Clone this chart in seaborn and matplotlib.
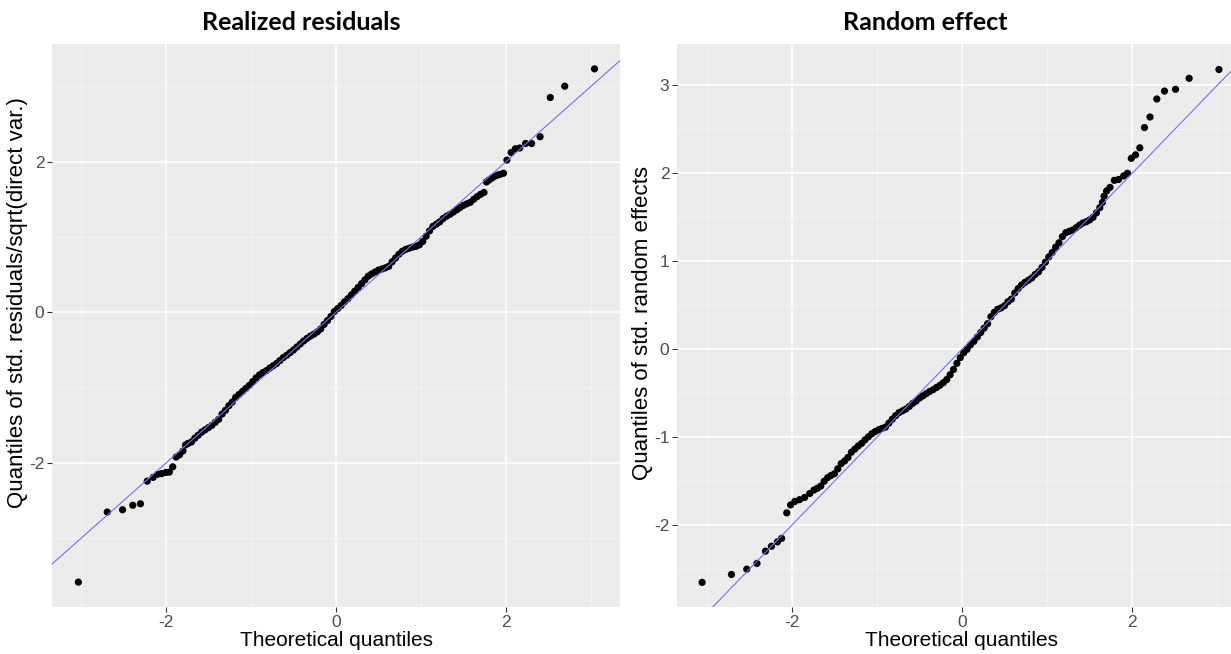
import matplotlib
matplotlib.use("Agg")
import matplotlib.pyplot as plt
import seaborn as sns
import pandas as pd
from matplotlib.ticker import FixedLocator

# ---------------- data ----------------
# Left panel: realized residuals  (theoretical quantile, sample quantile)
res_x = [-3.03, -2.69, -2.51, -2.39, -2.30, -2.22, -2.15, -2.10, -2.05, -2.00, -1.96, -1.92,
         -1.88, -1.84, -1.80, -1.77,
         -1.74, -1.70, -1.66, -1.62, -1.58, -1.54, -1.50, -1.46, -1.42, -1.38, -1.34, -1.30,
         -1.26, -1.22, -1.18, -1.14, -1.10, -1.06, -1.02, -0.98, -0.94, -0.90, -0.86, -0.82,
         -0.78, -0.74, -0.70, -0.66, -0.62, -0.58, -0.54, -0.50, -0.46, -0.42, -0.38, -0.34,
         -0.30, -0.26, -0.22, -0.18, -0.14, -0.10, -0.06, -0.02, 0.02, 0.06, 0.10, 0.14,
         0.18, 0.22, 0.26, 0.30, 0.34, 0.38, 0.42, 0.46, 0.50, 0.54, 0.58, 0.62,
         0.66, 0.70, 0.74, 0.78, 0.82, 0.86, 0.90, 0.94, 0.98, 1.02, 1.06, 1.10,
         1.14, 1.18, 1.22, 1.26, 1.30, 1.34, 1.38, 1.42, 1.46, 1.50, 1.54, 1.58,
         1.62, 1.66, 1.70, 1.74,
         1.77, 1.80, 1.83, 1.86, 1.90, 1.93, 1.97, 2.01, 2.06, 2.11, 2.16, 2.23,
         2.30, 2.40, 2.52, 2.69, 3.04]
res_y = [-3.58, -2.65, -2.62, -2.56, -2.54, -2.24, -2.19, -2.15, -2.14, -2.125, -2.12, -2.05,
         -1.92, -1.89, -1.84, -1.76,
         -1.74, -1.72, -1.67, -1.63, -1.59, -1.56, -1.53, -1.50, -1.46, -1.42, -1.35, -1.30,
         -1.24, -1.19, -1.13, -1.09, -1.05, -1.01, -0.97, -0.92, -0.87, -0.83, -0.80, -0.775,
         -0.74, -0.71, -0.68, -0.64, -0.60, -0.57, -0.535, -0.50, -0.46, -0.42, -0.38, -0.345,
         -0.315, -0.29, -0.26, -0.22, -0.16, -0.11, -0.055, 0.01, 0.05, 0.09, 0.14, 0.18,
         0.23, 0.28, 0.33, 0.38, 0.43, 0.48, 0.51, 0.535, 0.56, 0.575, 0.59, 0.61,
         0.67, 0.72, 0.77, 0.81, 0.835, 0.85, 0.865, 0.875, 0.895, 0.94, 1.01, 1.08,
         1.14, 1.17, 1.20, 1.245, 1.275, 1.30, 1.33, 1.36, 1.39, 1.42, 1.44, 1.46,
         1.50, 1.535, 1.565, 1.59,
         1.73, 1.755, 1.78, 1.80, 1.82, 1.83, 1.845, 2.02, 2.12, 2.17, 2.18, 2.24,
         2.24, 2.33, 2.85, 3.00, 3.23]

# Right panel: random effects
re_x = [-3.055, -2.71, -2.53, -2.41, -2.31, -2.24, -2.17, -2.12, -2.06, -2.015, -1.965, -1.91,
        -1.85, -1.79,
        -1.74, -1.70, -1.66, -1.62, -1.58, -1.54, -1.50, -1.46, -1.42, -1.38, -1.34, -1.30,
        -1.26, -1.22, -1.18, -1.14, -1.10, -1.06, -1.02, -0.98, -0.94, -0.90, -0.86, -0.82,
        -0.78, -0.74, -0.70, -0.66, -0.62, -0.58, -0.54, -0.50, -0.46, -0.42, -0.38, -0.34,
        -0.30, -0.26, -0.22, -0.18, -0.14, -0.10, -0.06, -0.02, 0.02, 0.06, 0.10, 0.14,
        0.18, 0.22, 0.26, 0.30, 0.34, 0.38, 0.42, 0.46, 0.50, 0.54, 0.58, 0.62,
        0.66, 0.70, 0.74, 0.78, 0.82, 0.86, 0.90, 0.94, 0.98, 1.02, 1.06, 1.10,
        1.14, 1.18, 1.22, 1.26, 1.30, 1.34, 1.38, 1.42, 1.46, 1.50, 1.54, 1.58,
        1.62, 1.65, 1.67, 1.70, 1.74, 1.79, 1.84, 1.90, 1.945, 1.99, 2.04, 2.09,
        2.145, 2.21, 2.29, 2.38, 2.51, 2.67, 3.02]
re_y = [-2.65, -2.56, -2.50, -2.435, -2.295, -2.24, -2.19, -2.15, -1.86, -1.77, -1.73, -1.71,
        -1.685, -1.64,
        -1.60, -1.58, -1.555, -1.50, -1.46, -1.435, -1.415, -1.36, -1.30, -1.27, -1.23, -1.17,
        -1.135, -1.10, -1.07, -1.03, -0.995, -0.96, -0.935, -0.915, -0.90, -0.885, -0.84, -0.795,
        -0.755, -0.72, -0.70, -0.68, -0.65, -0.615, -0.59, -0.555, -0.53, -0.505, -0.48, -0.46,
        -0.435, -0.41, -0.38, -0.345, -0.29, -0.23, -0.16, -0.095, -0.04, 0.00, 0.05, 0.09,
        0.14, 0.19, 0.24, 0.29, 0.37, 0.42, 0.455, 0.47, 0.495, 0.54, 0.57, 0.64,
        0.69, 0.73, 0.76, 0.785, 0.81, 0.85, 0.88, 0.93, 0.99, 1.05, 1.10, 1.16,
        1.21, 1.28, 1.325, 1.34, 1.355, 1.38, 1.41, 1.435, 1.45, 1.47, 1.50, 1.55,
        1.61, 1.67, 1.74, 1.80, 1.84, 1.92, 1.93, 1.97, 2.00, 2.17, 2.21, 2.29,
        2.52, 2.64, 2.845, 2.935, 2.955, 3.08, 3.18]

titles = ["Realized residuals", "Random effect"]
xlabels = ["Theoretical quantiles", "Theoretical quantiles"]
ylabels = ["Quantiles of std. residuals/sqrt(direct var.)", "Quantiles of std. random effects"]

# ---------------- styling ----------------
sns.set_theme(style="darkgrid", rc={
    "axes.facecolor": "#EBEBEB",
    "grid.color": "white",
    "axes.edgecolor": "#EBEBEB",
})
plt.rcParams["font.family"] = ["Liberation Sans", "DejaVu Sans"]
plt.rcParams["axes.unicode_minus"] = False

W, H = 1231, 654
fig = plt.figure(figsize=(W / 100, H / 100), dpi=100)
fig.patch.set_facecolor("white")

def px_axes(l, r, t, b):
    return fig.add_axes([l / W, 1 - b / H, (r - l) / W, (b - t) / H])

ax1 = px_axes(52, 620, 44, 607)
ax2 = px_axes(677, 1247, 44, 607)

panels = [
    (ax1, res_x, res_y, (-3.34, 3.34), (-3.91, 3.56), [-2, 0, 2], [-3, -1, 1, 3], (-0.06, 0.54)),
    (ax2, re_x, re_y, (-3.35, 3.35), (-2.93, 3.47), [-2, -1, 0, 1, 2, 3],
     [-2.5, -1.5, -0.5, 0.5, 1.5, 2.5], (-0.06, 0.504)),
]

for i, (ax, xs, ys, xl, yl, yt, yminor, lab_xy) in enumerate(panels):
    df = pd.DataFrame({"theo": xs, "sample": ys})
    sns.scatterplot(data=df, x="theo", y="sample", ax=ax, color="black",
                    s=27, edgecolor="none", linewidth=0, zorder=3)
    ax.axline((0, 0), slope=1, color="#7070ff", lw=0.8, zorder=4)
    ax.set_xlim(*xl)
    ax.set_ylim(*yl)
    ax.xaxis.set_major_locator(FixedLocator([-2, 0, 2]))
    ax.xaxis.set_minor_locator(FixedLocator([-3, -1, 1, 3]))
    ax.yaxis.set_major_locator(FixedLocator(yt))
    ax.yaxis.set_minor_locator(FixedLocator(yminor))
    ax.grid(which="major", color="white", lw=1.1)
    ax.grid(which="minor", color="#F5F5F5", lw=0.6)
    ax.tick_params(axis="both", which="major", length=3.5, width=0.8, color="#333333",
                   labelsize=12.5, labelcolor="#4D4D4D", pad=2, bottom=True, left=True)
    ax.tick_params(axis="both", which="minor", length=0)
    for sp in ax.spines.values():
        sp.set_visible(False)
    ax.set_xlabel(xlabels[i], fontsize=15, color="black", labelpad=1)
    ax.set_ylabel(ylabels[i], fontsize=16, color="black")
    ax.yaxis.label.set_verticalalignment("center")
    ax.yaxis.set_label_coords(*lab_xy)

fig.text(301 / W, 1 - 22 / H, titles[0], ha="center", va="center", color="black",
         fontsize=18, fontweight="bold", family=["Lato", "DejaVu Sans"])
fig.text(925 / W, 1 - 22 / H, titles[1], ha="center", va="center", color="black",
         fontsize=18, fontweight="bold", family=["Lato", "DejaVu Sans"])

fig.savefig("out.png", dpi=100, facecolor="white")
